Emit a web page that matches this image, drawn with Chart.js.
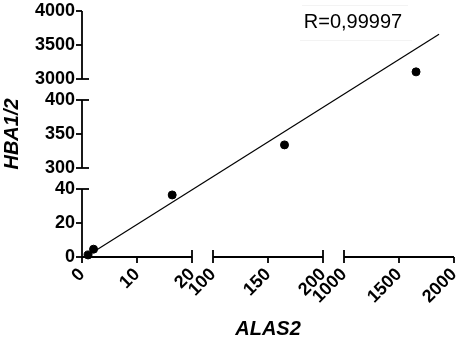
<!DOCTYPE html>
<html>
<head>
<meta charset="utf-8">
<script src="https://cdn.jsdelivr.net/npm/chart.js@4/dist/chart.umd.min.js"></script>
<style>
    body { margin: 0; background: #fff; }
    #wrap { width: 459px; height: 341px; }
</style>
</head>
<body>
<div id="wrap"><canvas id="fitChart"></canvas></div>
<script>
// measured values (ALAS2 vs HBA1/2)
const alas2 = [1.1, 2.1, 16.4, 165, 1655];
const hba = [1.2, 4.6, 36.5, 334, 3105];

// fitted line, end points
const fitX = [0.9, 1864];
const fitY = [0.6, 3657];

// broken axis pieces and ticks
const xSegments = [[0, 20], [100, 200], [1000, 2000]];
const ySegments = [[0, 40], [300, 400], [3000, 4000]];
const xTicks = [0, 10, 20, 100, 150, 200, 1000, 1500, 2000];
const yTicks = [0, 20, 40, 300, 350, 400, 3000, 3500, 4000];
const rLabel = 'R=0,99997';

const segmentsFor = { x: xSegments, y: ySegments };
const GAP = 21;  // px between pieces

// linear scale cut into pieces with a gap between them
class BrokenScale extends Chart.LinearScale {
    determineDataLimits() {
        const segs = segmentsFor[this.id];
        this.min = segs[0][0];
        this.max = segs[segs.length - 1][1];
    }
    buildTicks() {
        const vals = this.id === 'x' ? xTicks : yTicks;
        return vals.map(v => ({ value: v }));
    }
    brokenDecimal(v) {
        const segs = segmentsFor[this.id];
        const n = segs.length;
        const len = (this.isHorizontal() ? this.width : this.height) || 1;
        const g = GAP / len;
        const s = (1 - g * (n - 1)) / n;
        let i = segs.findIndex(sg => v <= sg[1]);
        if (i < 0) i = n - 1;
        const a = segs[i][0], b = segs[i][1];
        if (v < a && i > 0) {
            const pa = segs[i - 1][1];
            return i * (s + g) - g + g * (v - pa) / (a - pa);
        }
        return i * (s + g) + s * (v - a) / (b - a);
    }
    getPixelForValue(value) {
        if (value === null || isNaN(value)) return NaN;
        return this.getPixelForDecimal(this.brokenDecimal(value));
    }
    getValueForPixel(pixel) {
        const d = this.getDecimalForPixel(pixel);
        const segs = segmentsFor[this.id];
        const n = segs.length;
        const len = (this.isHorizontal() ? this.width : this.height) || 1;
        const g = GAP / len;
        const s = (1 - g * (n - 1)) / n;
        const i = Math.min(n - 1, Math.floor(d / (s + g)));
        const f = Math.min(1, (d - i * (s + g)) / s);
        return segs[i][0] + f * (segs[i][1] - segs[i][0]);
    }
}
BrokenScale.id = 'broken';
BrokenScale.defaults = {};
Chart.register(BrokenScale);

// axis lines drawn piece by piece, with caps at the breaks
const brokenAxes = {
    id: 'brokenAxes',
    beforeDatasetsDraw(chart) {
        const ctx = chart.ctx;
        const xs = chart.scales.x, ys = chart.scales.y;
        const ax = chart.chartArea.left, ay = chart.chartArea.bottom;
        const tick = 6, cap = 7;
        ctx.save();
        ctx.strokeStyle = '#000';
        ctx.lineWidth = 1.8;
        ctx.lineCap = 'butt';
        const seg = (x1, y1, x2, y2) => {
            ctx.beginPath();
            ctx.moveTo(x1, y1);
            ctx.lineTo(x2, y2);
            ctx.stroke();
        };
        xSegments.forEach((sg, i) => {
            const pa = xs.getPixelForValue(sg[0]);
            const pb = xs.getPixelForValue(sg[1]);
            seg(pa, ay, pb, ay);
            if (i > 0) seg(pa, ay - cap, pa, ay);
            if (i < xSegments.length - 1) seg(pb, ay - cap, pb, ay);
        });
        ySegments.forEach((sg, i) => {
            const pa = ys.getPixelForValue(sg[0]);
            const pb = ys.getPixelForValue(sg[1]);
            seg(ax, pa, ax, pb);
            if (i > 0) seg(ax, pa, ax + cap, pa);
            if (i < ySegments.length - 1) seg(ax, pb, ax + cap, pb);
        });
        xTicks.forEach(v => {
            const p = xs.getPixelForValue(v);
            seg(p, ay, p, ay + tick);
        });
        yTicks.forEach(v => {
            const p = ys.getPixelForValue(v);
            seg(ax - tick, p, ax, p);
        });

        // R value box (very faint rules above and below)
        ctx.strokeStyle = '#f3f3f3';
        ctx.lineWidth = 1;
        seg(302, 5.5, 408, 5.5);
        seg(300, 40.5, 412, 40.5);
        ctx.fillStyle = '#000';
        ctx.font = '20px "Liberation Sans", Arial, sans-serif';
        ctx.textAlign = 'center';
        ctx.textBaseline = 'alphabetic';
        ctx.fillText(rLabel, 353, 28);
        ctx.restore();
    }
};

const tickFont = { family: '"Liberation Sans", Arial, sans-serif', size: 18, weight: 'bold' };
const titleFont = { family: '"Liberation Sans", Arial, sans-serif', size: 20, weight: 'bold', style: 'italic' };

function setupChart() {
    const ctx = document.getElementById('fitChart').getContext('2d');
    new Chart(ctx, {
        type: 'scatter',
        data: {
            datasets: [{
                label: 'samples',
                data: alas2.map((v, i) => ({ x: v, y: hba[i] })),
                backgroundColor: '#000',
                borderColor: '#000',
                pointRadius: 4,
                showLine: false
            }, {
                label: 'fit',
                data: fitX.map((v, i) => ({ x: v, y: fitY[i] })),
                borderColor: '#000',
                borderWidth: 1.2,
                pointRadius: 0,
                showLine: true,
                clip: false
            }]
        },
        options: {
            responsive: true,
            maintainAspectRatio: false,
            animation: false,
            layout: { padding: { top: 11, right: 5, left: 0, bottom: 0 } },
            plugins: { legend: { display: false }, tooltip: { enabled: false } },
            scales: {
                x: {
                    type: 'broken',
                    position: 'bottom',
                    grid: { display: false, drawTicks: true, tickLength: 6 },
                    border: { display: false },
                    ticks: {
                        autoSkip: false, minRotation: 45, maxRotation: 45, padding: 1,
                        color: '#000', font: tickFont,
                        callback: v => String(v)
                    },
                    title: { display: true, text: 'ALAS2', color: '#000', font: titleFont, padding: 0 },
                    afterFit: s => { s.height = 84; s.paddingLeft = 0; s.paddingRight = 0; }
                },
                y: {
                    type: 'broken',
                    position: 'left',
                    grid: { display: false, drawTicks: true, tickLength: 6 },
                    border: { display: false },
                    ticks: {
                        autoSkip: false, padding: 1,
                        color: '#000', font: tickFont,
                        callback: v => String(v)
                    },
                    title: { display: true, text: 'HBA1/2', color: '#000', font: titleFont, padding: 0 },
                    afterFit: s => { s.width = 82; s.paddingTop = 0; s.paddingBottom = 0; }
                }
            }
        },
        plugins: [brokenAxes]
    });
}

window.onload = setupChart;
</script>
</body>
</html>
